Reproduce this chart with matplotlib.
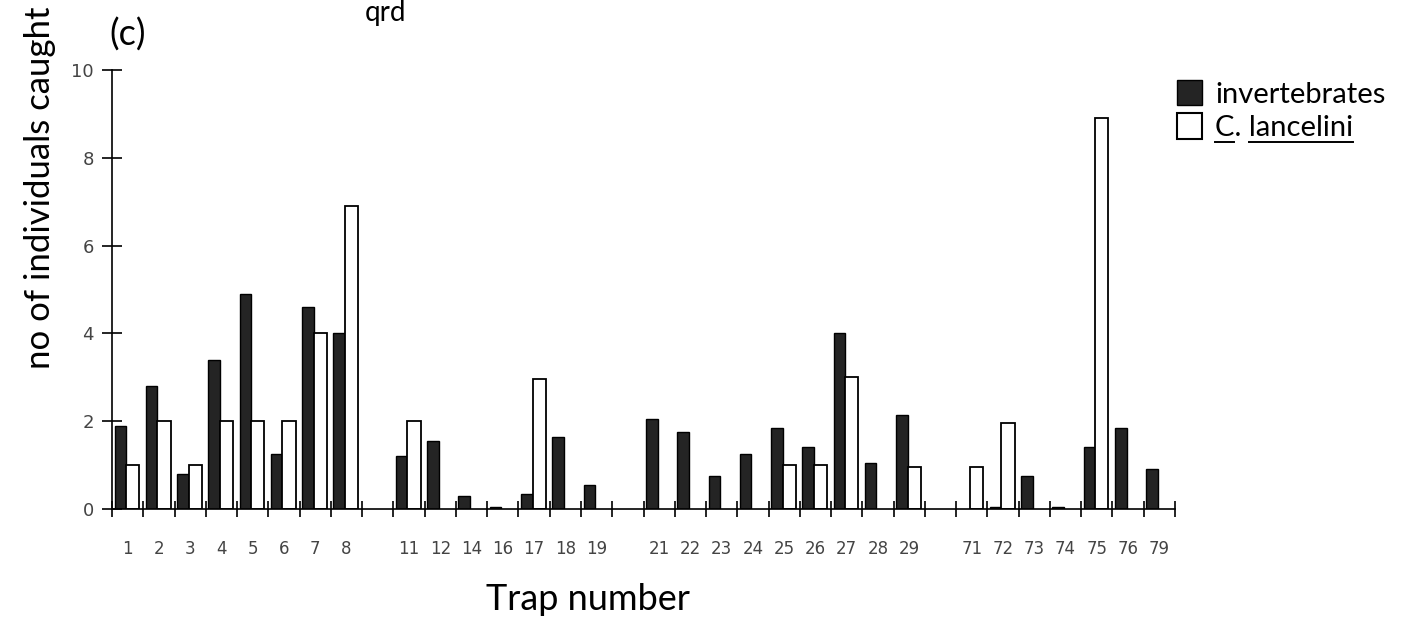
import numpy as np
import matplotlib.pyplot as plt
from matplotlib.patches import Patch
from matplotlib.lines import Line2D

# trap numbers, grouped; a blank slot is left between the groups
trap_groups = [
    ['1', '2', '3', '4', '5', '6', '7', '8'],
    ['11', '12', '14', '16', '17', '18', '19'],
    ['21', '22', '23', '24', '25', '26', '27', '28', '29'],
    ['71', '72', '73', '74', '75', '76', '79'],
]

invertebrates = [1.9, 2.8, 0.8, 3.4, 4.9, 1.25, 4.6, 4.0,
                 1.2, 1.55, 0.3, 0.05, 0.35, 1.65, 0.55,
                 2.05, 1.75, 0.75, 1.25, 1.85, 1.4, 4.0, 1.05, 2.15,
                 0.0, 0.05, 0.75, 0.05, 1.4, 1.85, 0.9]

lancelini = [1.0, 2.0, 1.0, 2.0, 2.0, 2.0, 4.0, 6.9,
             2.0, 0, 0, 0, 2.95, 0, 0,
             0, 0, 0, 0, 1.0, 1.0, 3.0, 0, 0.95,
             0.95, 1.95, 0, 0, 8.9, 0, 0]

y_ticks = [0, 2, 4, 6, 8, 10]

# slot positions along the axis
labels, pos = [], []
slot = 0
for g in trap_groups:
    for t in g:
        labels.append(t)
        pos.append(slot)
        slot += 1
    slot += 1
n_slots = slot - 1
pos = np.array(pos, dtype=float)
inv = np.array(invertebrates)
lan = np.array(lancelini)

hand = ['Lato', 'DejaVu Sans']
dark = '#242424'

fig = plt.figure(figsize=(14.06, 6.41), dpi=100)
ax = fig.add_axes([0.0797, 0.206, 0.756, 0.685])

m = inv > 0
ax.bar(pos[m] + 0.08, inv[m], width=0.37, align='edge',
       color=dark, edgecolor='black', linewidth=1)
m = lan > 0
ax.bar(pos[m] + 0.45, lan[m], width=0.42, align='edge',
       color='white', edgecolor='black', linewidth=1.3)

ax.set_xlim(0, n_slots)
ax.set_ylim(0, 10)
for s in ['top', 'right']:
    ax.spines[s].set_visible(False)
ax.spines['left'].set_linewidth(1.2)
ax.spines['bottom'].set_linewidth(1.2)

ax.set_yticks(y_ticks)
ax.tick_params(axis='y', direction='inout', length=14, width=1.2,
               labelsize=13, labelcolor='#444444', pad=6)
ax.set_xticks(np.arange(0, n_slots + 1), minor=True)
ax.set_xticks(pos + 0.5)
ax.set_xticklabels(labels)
ax.tick_params(axis='x', which='minor', direction='inout', length=12, width=1.2)
ax.tick_params(axis='x', which='major', length=0, pad=22,
               labelsize=12, labelcolor='#444444')

fig.text(40 / 1406, 1 - 188 / 641, 'no of individuals caught', rotation=90,
         ha='center', va='center', fontsize=25, family=hand)
fig.text(588 / 1406, 1 - 600 / 641, 'Trap number', ha='center', va='center',
         fontsize=26, family=hand)
fig.text(128 / 1406, 1 - 35 / 641, '(c)', ha='center', va='center',
         fontsize=26, family=hand)
fig.text(385 / 1406, 1.0, 'qrd', ha='center', va='top',
         fontsize=20, family=hand)

handles = [Patch(facecolor=dark, edgecolor='black'),
           Patch(facecolor='white', edgecolor='black', linewidth=1.5)]
leg = fig.legend(handles, ['invertebrates', 'C. lancelini'], loc='upper left',
                 bbox_to_anchor=(1177 / 1406, 1 - 80 / 641), frameon=False,
                 prop={'family': hand, 'size': 21},
                 handlelength=0.85, handleheight=0.95, handletextpad=0.45,
                 labelspacing=0.2, borderaxespad=0, borderpad=0)

# underline the species name
fig.canvas.draw()
r = fig.canvas.get_renderer()
txt = leg.get_texts()[1]
bb = txt.get_window_extent(r)
fp = txt.get_fontproperties()
tmp = fig.text(0, 0, 'C', fontproperties=fp)
w_c = tmp.get_window_extent(r).width
tmp.set_text('C. ')
w_cd = tmp.get_window_extent(r).width
tmp.remove()
W, H = fig.bbox.width, fig.bbox.height
yl = (bb.y0 - 1) / H
fig.add_artist(Line2D([bb.x0 / W, (bb.x0 + w_c) / W], [yl, yl],
                      transform=fig.transFigure, color='black', lw=1.4))
fig.add_artist(Line2D([(bb.x0 + w_cd) / W, bb.x1 / W], [yl, yl],
                      transform=fig.transFigure, color='black', lw=1.4))

fig.savefig('out.png', dpi=100)
